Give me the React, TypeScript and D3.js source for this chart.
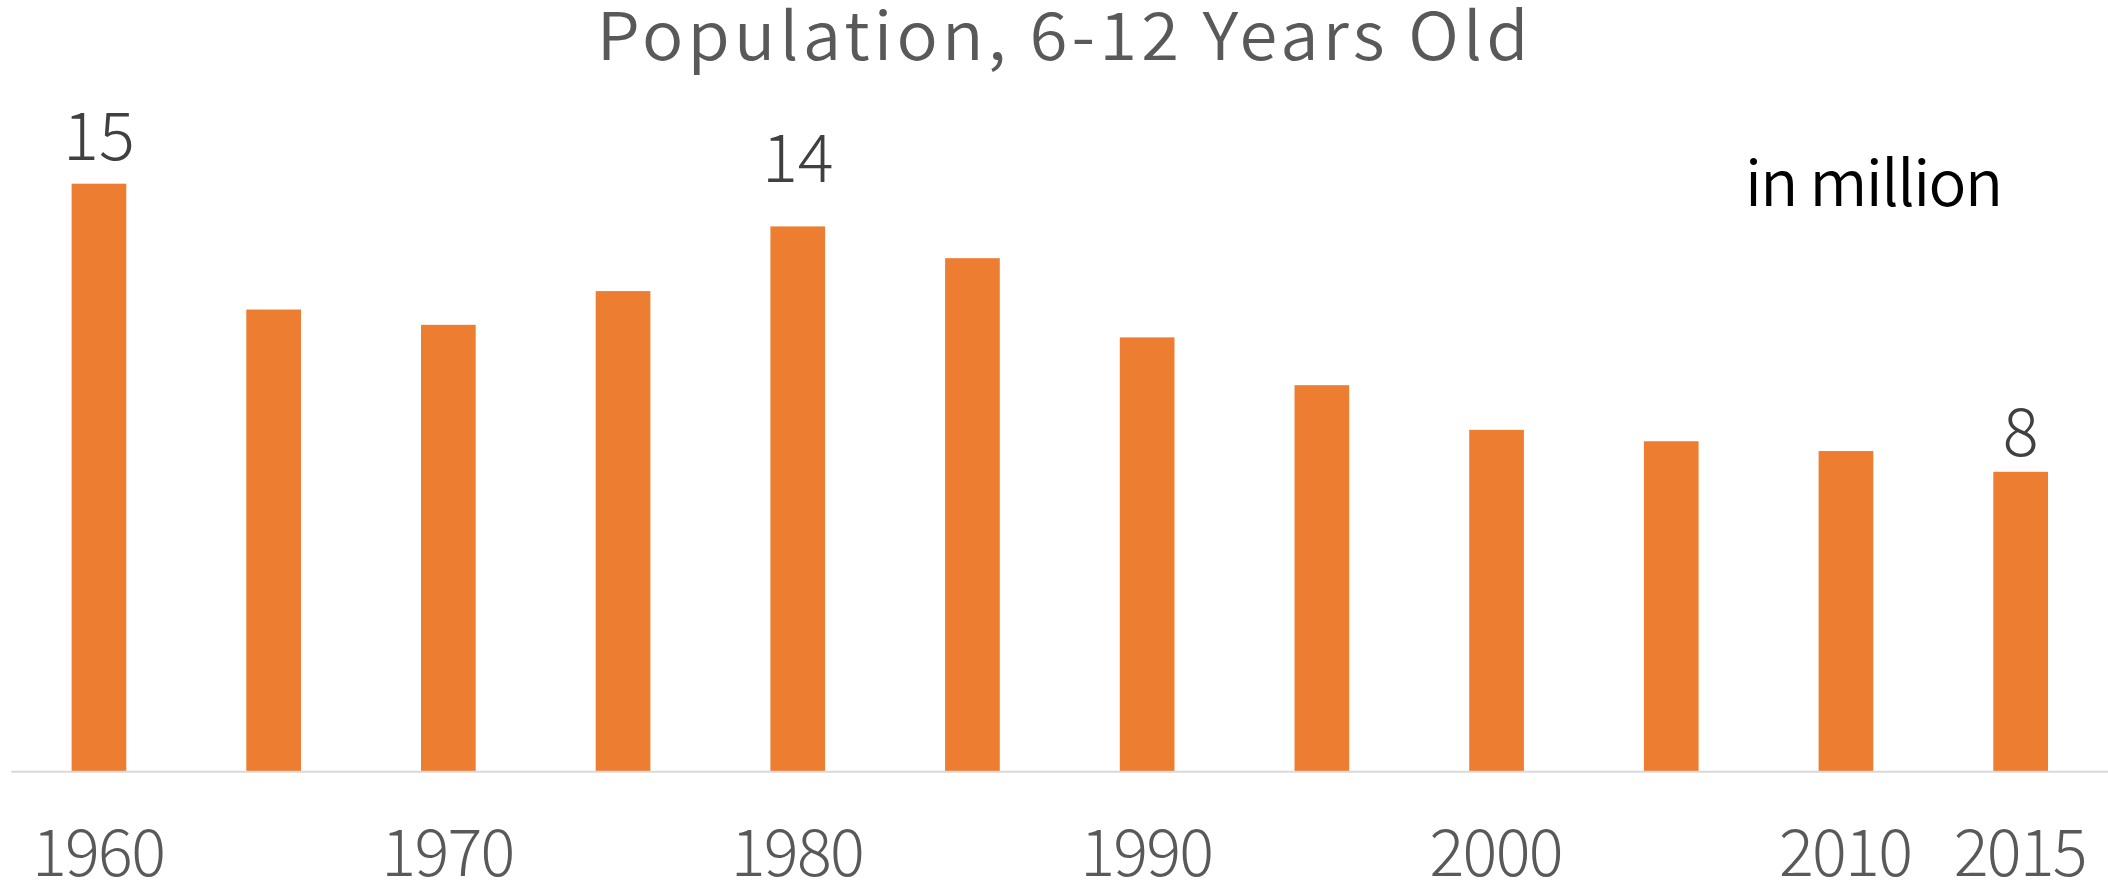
import React from "react";
import * as d3 from "d3";

const years: string[] = ["1960","1965","1970","1975","1980","1985","1990","1995","2000","2005","2010","2015"];
const population: number[] = [15.0, 11.79, 11.4, 12.26, 13.91, 13.1, 11.08, 9.86, 8.72, 8.43, 8.18, 7.65];
const tickYears: string[] = ["1960","1970","1980","1990","2000","2010","2015"];
const labelledYears: string[] = ["1960","1980","2015"];
const labelGaps: number[] = [24, 44, 16];

const W = 2108, H = 881;
const FONT = "'Noto Sans CJK JP', 'Noto Sans', sans-serif";

export default function App() {
  const x = d3.scaleBand<string>().domain(years).range([11.6, 2108]).paddingInner(0.687).paddingOuter(0.3435);
  const y = d3.scaleLinear().domain([0, 16]).range([771.7, 771.7 - 16 * 39.2]);
  return (
    <>
      <style>{"body{margin:0;overflow:hidden}"}</style>
      <svg width={W} height={H} style={{ display: "block", background: "#fff" }}>
        <text x={1064.7} y={60.3} textAnchor="middle" fontFamily={FONT} fontSize={66} fontWeight={350} letterSpacing={4} fill="#595959" textLength={936} lengthAdjust="spacingAndGlyphs">Population, 6-12 Years Old</text>
        <text x={1745} y={206} fontFamily={FONT} fontSize={63} fontWeight={350} fill="#000" textLength={258} lengthAdjust="spacing">in million</text>
        {years.map((yr, i) => (
          <rect key={yr} x={x(yr)} y={y(population[i])} width={x.bandwidth()} height={y(0) - y(population[i])} fill="#ED7D31" />
        ))}
        <line x1={11.3} x2={2108} y1={771.7} y2={771.7} stroke="#D9D9D9" strokeWidth={2} />
        {labelledYears.map((yr, k) => {
          const i = years.indexOf(yr);
          return (
            <text key={yr} x={(x(yr) as number) + x.bandwidth() / 2} y={y(population[i]) - labelGaps[k]} textAnchor="middle" fontFamily={FONT} fontSize={67} fontWeight={300} fill="#404040">{Math.round(population[i])}</text>
          );
        })}
        {tickYears.map((yr) => (
          <text key={yr} x={(x(yr) as number) + x.bandwidth() / 2} y={876} textAnchor="middle" fontFamily={FONT} fontSize={65} fontWeight={300} fill="#595959" textLength={134} lengthAdjust="spacing">{yr}</text>
        ))}
      </svg>
    </>
  );
}
